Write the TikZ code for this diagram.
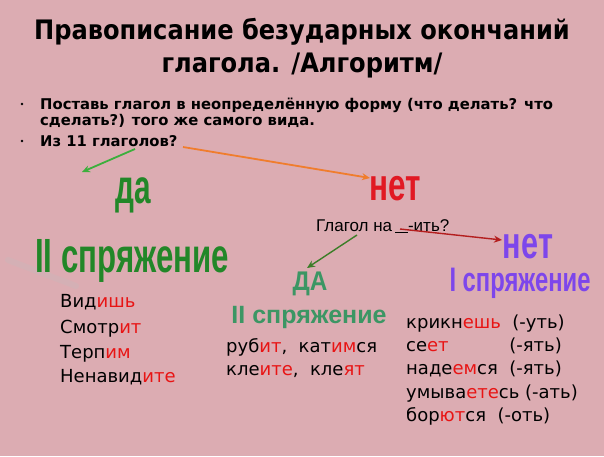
\documentclass[tikz,border=0pt]{standalone}
\usepackage{fontspec}
\usepackage{graphicx}
\setmainfont{DejaVu Sans}
\newfontfamily\condfont{DejaVu Sans Condensed}
\newfontfamily\arial{Liberation Sans}
\usetikzlibrary{arrows.meta}
\definecolor{bgpink}{RGB}{220,172,178}
\definecolor{dgreen}{RGB}{34,135,40}
\definecolor{netred}{RGB}{225,25,35}
\definecolor{tealg}{RGB}{60,150,100}
\definecolor{purp}{RGB}{125,70,235}
\definecolor{endred}{RGB}{232,20,20}
\definecolor{garrow}{RGB}{60,175,60}
\definecolor{oarrow}{RGB}{240,125,45}
\definecolor{rarrow}{RGB}{180,30,30}
\definecolor{garrow2}{RGB}{60,125,40}
\newcommand{\E}[1]{\textcolor{endred}{#1}}
\begin{document}
\begin{tikzpicture}[x=1pt,y=-1pt,
  title/.style={inner sep=0pt, anchor=base, font=\condfont\bfseries\fontsize{26.8}{32}\selectfont},
  bul/.style={inner sep=0pt, anchor=base west, font=\bfseries\fontsize{14.8}{17}\selectfont},
  lst/.style={inner sep=0pt, anchor=base west, font=\fontsize{18}{21}\selectfont},
  big/.style={inner sep=0pt, anchor=base, font=\arial\bfseries\fontsize{48}{50}\selectfont},
  arr/.style={line width=1.8pt, -{Stealth[length=8pt,width=7pt]}}]
\fill[bgpink] (0,0) rectangle (604,456);
\useasboundingbox (0,0) rectangle (604,456);
% faint smear
\draw[line width=6pt, gray!50, opacity=0.25, line cap=round] (8,260) -- (76,286);
% title
\node[title] (t1) at (302,39) {Правописание безударных окончаний};
\node[title] (t2) at (302,72) {глагола. /Алгоритм/};
% bullets
\fill (22,104) circle (1.4pt) coordinate (d1);
\fill (22,141) circle (1.4pt) coordinate (d2);
\node[bul] (b1) at (40,109) {Поставь глагол в неопределённую форму (что делать? что};
\node[bul] (b2) at (40,125) {сделать?) того же самого вида.};
\node[bul] (b3) at (40,146) {Из 11 глаголов?};
% big words
\node[big, text=dgreen] (da) at (133,203) {\scalebox{0.62}[1]{да}};
\node[big, text=netred, font=\arial\bfseries\fontsize{45}{50}\selectfont] (net1) at (395,200) {\scalebox{0.7}[1]{нет}};
\node[big, text=dgreen] (conj2a) at (132,272) {\scalebox{0.65}[1]{II спряжение}};
\node[inner sep=0pt, anchor=base west, font=\arial\fontsize{17}{19}\selectfont] (q) at (316,231) {Глагол на\,\underline{\hspace{13pt}}-ить?};
\node[big, text=purp, text depth=0pt, font=\arial\bfseries\fontsize{45}{50}\selectfont] (net2) at (528,258) {\scalebox{0.68}[1]{нет}};
\node[inner sep=0pt, anchor=base, text=purp, text height=25pt, font=\arial\bfseries\fontsize{34}{40}\selectfont] (conj1) at (520,291) {\scalebox{0.7}[1]{I спряжение}};
\node[inner sep=0pt, anchor=base, text=tealg, font=\arial\bfseries\fontsize{27}{30}\selectfont] (da2) at (310,290) {\scalebox{0.9}[1]{ДА}};
\node[inner sep=0pt, anchor=base, text=tealg, font=\arial\bfseries\fontsize{25}{30}\selectfont] (conj2b) at (309,323) {II спряжение};
% lists
\node[lst] (l1) at (60,307) {Вид\E{ишь}};
\node[lst] (l2) at (60,333) {Смотр\E{ит}};
\node[lst] (l3) at (60,358) {Терп\E{им}};
\node[lst] (l4) at (60,382) {Ненавид\E{ите}};
\node[lst] (m1) at (226,352) {руб\E{ит},\ \ кат\E{им}ся};
\node[lst] (m2) at (226,375) {кле\E{ите},\ \ кле\E{ят}};
\node[lst] (r1) at (406,328) {крикн\E{ешь}\ \ (-уть)};
\node[lst] (r2) at (406,351) {\rlap{се\E{ет}}\hphantom{надеемся\ \ }(-ять)};
\node[lst] (r3) at (406,374) {наде\E{ем}ся\ \ (-ять)};
\node[lst] (r4) at (406,398) {умыва\E{ете}сь\ (-ать)};
\node[lst] (r5) at (406,421) {бор\E{ют}ся\ \ (-оть)};
% arrows
\coordinate (g1s) at (135,149);
\coordinate (g1e) at (82,172);
\coordinate (o1s) at (183,147);
\coordinate (o1e) at (370,178);
\coordinate (r1s) at (400,229);
\coordinate (r1e) at (502,240);
\coordinate (g2s) at (357,235);
\coordinate (g2e) at (307,268);
\draw[arr, garrow] (g1s) -- (g1e);
\draw[arr, oarrow] (o1s) -- (o1e);
\draw[arr, rarrow, line width=1.4pt] (r1s) -- (r1e);
\draw[arr, garrow2, line width=1.4pt] (g2s) -- (g2e);
\end{tikzpicture}
\end{document}
